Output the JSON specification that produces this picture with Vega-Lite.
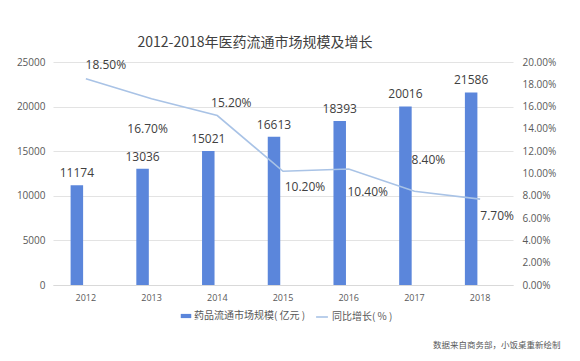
{
  "$schema": "https://vega.github.io/schema/vega-lite/v6.json",
  "width": 460,
  "height": 223,
  "autosize": {"type": "none"},
  "padding": {"left": 53, "top": 62, "right": 67, "bottom": 76},
  "background": "white",
  "title": {
    "text": "2012-2018年医药流通市场规模及增长",
    "font": "Noto Sans CJK SC",
    "fontSize": 14,
    "fontWeight": "normal",
    "color": "#404040",
    "anchor": "middle",
    "dx": -28,
    "offset": 7
  },
  "config": {
    "font": "Noto Sans CJK SC",
    "view": {"stroke": null},
    "axis": {"labelFont": "Open Sans", "labelFontSize": 10, "labelColor": "#595959", "ticks": false, "domain": false, "labelOverlap": false},
    "legend": {"labelFont": "Noto Sans CJK SC", "labelFontSize": 10, "labelColor": "#595959"}
  },
  "data": {
    "values": [
      {"year": "2012", "scale": 11174, "growth": 0.185},
      {"year": "2013", "scale": 13036, "growth": 0.167},
      {"year": "2014", "scale": 15021, "growth": 0.152},
      {"year": "2015", "scale": 16613, "growth": 0.102},
      {"year": "2016", "scale": 18393, "growth": 0.104},
      {"year": "2017", "scale": 20016, "growth": 0.084},
      {"year": "2018", "scale": 21586, "growth": 0.077}
    ]
  },
  "encoding": {
    "x": {
      "field": "year",
      "type": "nominal",
      "scale": {"type": "band", "paddingInner": 0, "paddingOuter": 0},
      "axis": {
        "labelAngle": 0,
        "labelPadding": 8,
        "labelFontSize": 9,
        "domain": true,
        "domainColor": "#D9D9D9",
        "title": "数据来自商务部，小饭桌重新绘制",
        "titleFont": "Noto Sans CJK SC",
        "titleFontSize": 8.5,
        "titleFontWeight": "normal",
        "titleColor": "#595959",
        "titleX": 507,
        "titleY": 55,
        "titleAlign": "right",
        "titleAnchor": "end"
      }
    }
  },
  "layer": [
    {
      "encoding": {
        "y": {
          "field": "scale",
          "type": "quantitative",
          "scale": {"domain": [0, 25000]},
          "axis": {"orient": "left", "values": [0, 5000, 10000, 15000, 20000, 25000], "format": "d", "grid": true, "gridColor": "#E3E3E3", "labelPadding": 8, "title": null}
        }
      },
      "layer": [
        {
          "mark": {"type": "bar", "width": 12.5, "xOffset": -9},
          "encoding": {
            "color": {
              "datum": "药品流通市场规模( 亿元 )",
              "scale": {"range": ["#5B86DB"]},
              "legend": {
                "title": null,
                "orient": "none",
                "legendX": 127,
                "legendY": 248,
                "symbolType": "M-1,-0.4H1V0.4H-1Z",
                "symbolSize": 110,
                "labelOffset": 2
              }
            }
          }
        },
        {
          "mark": {"type": "text", "xOffset": -9, "baseline": "bottom", "dy": -5, "font": "Open Sans", "fontSize": 12, "color": "#404040"},
          "encoding": {
            "text": {"field": "scale", "type": "quantitative", "format": "d"}
          }
        }
      ]
    },
    {
      "encoding": {
        "y": {
          "field": "growth",
          "type": "quantitative",
          "scale": {"domain": [0, 0.2]},
          "axis": {"orient": "right", "format": ".2%", "values": [0, 0.02, 0.04, 0.06, 0.08, 0.1, 0.12, 0.14, 0.16, 0.18, 0.2], "labelOverlap": false, "grid": false, "labelPadding": 9, "title": null}
        },
        "text": {"field": "growth", "type": "quantitative", "format": ".2%"}
      },
      "layer": [
        {
          "mark": {"type": "line", "strokeWidth": 1.6},
          "encoding": {
            "text": null,
            "stroke": {
              "datum": "同比增长( % )",
              "scale": {"range": ["#A9C3E6"]},
              "legend": {
                "title": null,
                "orient": "none",
                "legendX": 262,
                "legendY": 248,
                "symbolType": "stroke",
                "symbolSize": 140,
                "symbolStrokeWidth": 1.6,
                "labelOffset": 3
              }
            }
          }
        },
        {
          "transform": [{"filter": "datum.year == '2012'"}],
          "mark": {"type": "text", "dx": 20, "dy": -14, "font": "Open Sans", "fontSize": 12, "color": "#404040"}
        },
        {
          "transform": [{"filter": "datum.year == '2013'"}],
          "mark": {"type": "text", "dx": -4, "dy": 30, "font": "Open Sans", "fontSize": 12, "color": "#404040"}
        },
        {
          "transform": [{"filter": "datum.year == '2014'"}],
          "mark": {"type": "text", "dx": 14, "dy": -13, "font": "Open Sans", "fontSize": 12, "color": "#404040"}
        },
        {
          "transform": [{"filter": "datum.year == '2015'"}],
          "mark": {"type": "text", "dx": 22, "dy": 16, "font": "Open Sans", "fontSize": 12, "color": "#404040"}
        },
        {
          "transform": [{"filter": "datum.year == '2016'"}],
          "mark": {"type": "text", "dx": 19, "dy": 23, "font": "Open Sans", "fontSize": 12, "color": "#404040"}
        },
        {
          "transform": [{"filter": "datum.year == '2017'"}],
          "mark": {"type": "text", "dx": 14, "dy": -31, "font": "Open Sans", "fontSize": 12, "color": "#404040"}
        },
        {
          "transform": [{"filter": "datum.year == '2018'"}],
          "mark": {"type": "text", "dx": 17, "dy": 17, "font": "Open Sans", "fontSize": 12, "color": "#404040"}
        }
      ]
    }
  ],
  "resolve": {"scale": {"y": "independent"}}
}
